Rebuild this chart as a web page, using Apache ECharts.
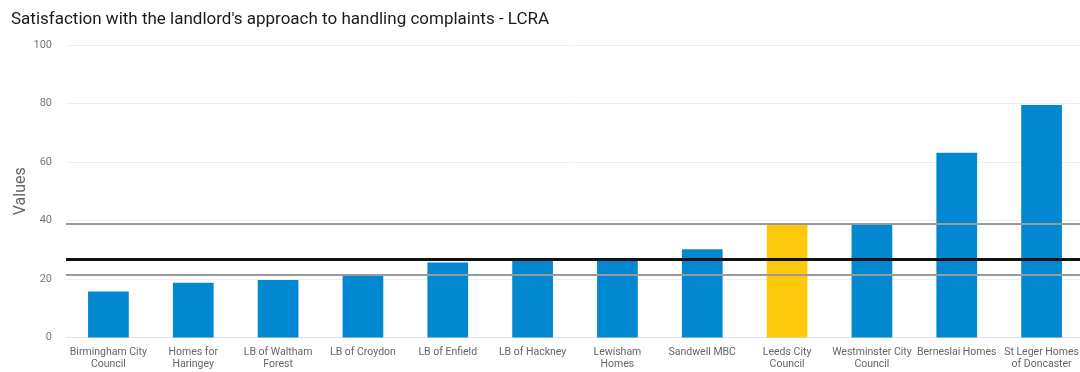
<!DOCTYPE html>
<html>
<head>
<meta charset="utf-8">
<style>
  html, body { margin: 0; padding: 0; background: #fff; }
  #chart { width: 1080px; height: 372px; }
</style>
<script src="https://cdn.jsdelivr.net/npm/echarts@6/dist/echarts.min.js"></script>
</head>
<body>
<div id="chart"></div>
<script>
var categories = [
  "Birmingham City Council", "Homes for Haringey", "LB of Waltham Forest", "LB of Croydon",
  "LB of Enfield", "LB of Hackney", "Lewisham Homes", "Sandwell MBC",
  "Leeds City Council", "Westminster City Council", "Berneslai Homes", "St Leger Homes of Doncaster"
];
var tickLabels = [
  "Birmingham City\nCouncil", "Homes for\nHaringey", "LB of Waltham\nForest", "LB of Croydon",
  "LB of Enfield", "LB of Hackney", "Lewisham\nHomes", "Sandwell MBC",
  "Leeds City\nCouncil", "Westminster City\nCouncil", "Berneslai Homes", "St Leger Homes\nof Doncaster"
];
var values = [15.7, 18.7, 19.7, 21.2, 25.6, 26.2, 26.2, 30.2, 38.8, 38.8, 63.2, 79.5];
var highlighted = "Leeds City Council";
var refLines = [39.0, 26.6, 21.5];
var refLineKinds = ["upper", "median", "lower"];

var chart = echarts.init(document.getElementById('chart'), null, { renderer: 'canvas' });

var barData = values.map(function (v, i) {
  return {
    value: v,
    itemStyle: { color: categories[i] === highlighted ? '#FEC80B' : '#0288D1' }
  };
});

var markData = refLines.map(function (v, i) {
  var isMedian = refLineKinds[i] === 'median';
  return {
    yAxis: v,
    lineStyle: {
      color: isMedian ? '#111111' : '#9a9a9a',
      width: isMedian ? 3 : 2,
      type: 'solid'
    }
  };
});

chart.setOption({
  animation: false,
  title: {
    text: "Satisfaction with the landlord's approach to handling complaints - LCRA",
    left: 6,
    top: 6,
    textStyle: { fontFamily: 'Roboto', fontSize: 17, fontWeight: 'normal', color: '#1a1a1a' }
  },
  grid: { left: 66, right: -4, top: 45, bottom: 34.5, containLabel: false, outerBoundsMode: 'none' },
  xAxis: {
    type: 'category',
    data: tickLabels,
    axisLine: { show: true, lineStyle: { color: '#dfe3ee', width: 1 } },
    axisTick: { show: false },
    axisLabel: {
      interval: 0,
      fontFamily: 'Roboto',
      fontSize: 10.5,
      color: '#666',
      lineHeight: 12,
      margin: 9
    }
  },
  yAxis: {
    type: 'value',
    min: 0,
    max: 100,
    interval: 20,
    name: 'Values',
    nameLocation: 'middle',
    nameGap: 37,
    nameMoveOverlap: false,
    nameTextStyle: { fontFamily: 'Roboto', fontSize: 16, color: '#666' },
    axisLine: { show: false },
    axisTick: { show: false },
    axisLabel: { fontFamily: 'Roboto', fontSize: 11, color: '#777', margin: 14 },
    splitLine: { lineStyle: { color: '#eeeeee', width: 1 } }
  },
  series: [{
    type: 'bar',
    data: barData,
    barCategoryGap: '52%',
    markLine: {
      silent: true,
      symbol: ['none', 'none'],
      label: { show: false },
      animation: false,
      data: markData
    }
  }]
});
</script>
</body>
</html>
